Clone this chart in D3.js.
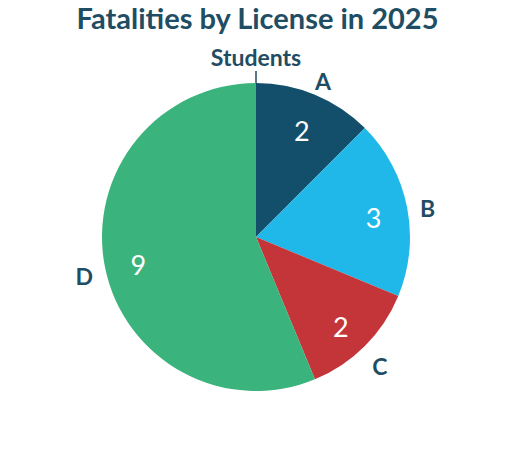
<!DOCTYPE html>
<html><head><meta charset="utf-8">
<script src="https://cdn.jsdelivr.net/npm/d3@7"></script>
<style>body{margin:0;background:#fff;}svg{display:block;}</style>
</head><body>
<svg id="chart" width="516" height="456"></svg>
<script>
const categories = ["Students", "A", "B", "C", "D"];
const values = [0, 2, 3, 2, 9];
const colors = ["#3bb37c", "#134f6b", "#1fb8e8", "#c4353a", "#3bb37c"];
const title = "Fatalities by License in 2025";

const svg = d3.select("#chart");
const cx = 256, cy = 237, r = 154;
const textColor = "#1f4d63";
const font = "Lato";

svg.append("text").attr("x", 257.5).attr("y", 28.7).attr("text-anchor", "middle")
  .attr("font-family", font).attr("font-weight", 700).attr("font-size", 29)
  .attr("fill", textColor).text(title);

const data = categories.map((c, i) => ({cat: c, value: values[i], color: colors[i]}));
const pie = d3.pie().sort(null).value(d => d.value);
const arcs = pie(data);
const arc = d3.arc().innerRadius(0).outerRadius(r);
const labelArc = d3.arc().innerRadius(120).outerRadius(120);
const outArc = d3.arc().innerRadius(175).outerRadius(175);

const g = svg.append("g").attr("transform", `translate(${cx},${cy})`);
g.selectAll("path.slice").data(arcs.filter(a => a.data.value > 0)).join("path")
  .attr("class", "slice").attr("d", arc).attr("fill", d => d.data.color);

g.selectAll("text.val").data(arcs.filter(a => a.data.value > 0)).join("text")
  .attr("class", "val")
  .attr("transform", d => { const c = labelArc.centroid(d); return `translate(${c[0]},${c[1] + 5})`; })
  .attr("text-anchor", "middle").attr("dy", "0.36em")
  .attr("font-family", font).attr("font-weight", 400).attr("font-size", 27).attr("fill", "#fff")
  .text(d => d.data.value);

g.selectAll("text.cat").data(arcs.filter(a => a.data.value > 0)).join("text")
  .attr("class", "cat")
  .attr("transform", d => { const c = outArc.centroid(d); return `translate(${c[0]},${c[1] + 6})`; })
  .attr("text-anchor", "middle").attr("dy", "0.36em")
  .attr("font-family", font).attr("font-weight", 700).attr("font-size", 23)
  .attr("fill", textColor).text(d => d.data.cat);

// zero-value slice label with connector
arcs.filter(a => a.data.value === 0).forEach(a => {
  const ang = a.startAngle;
  const x = Math.sin(ang), y = -Math.cos(ang);
  g.append("line").attr("x1", x * r).attr("y1", y * r).attr("x2", x * 166).attr("y2", y * 166)
    .attr("stroke", textColor).attr("stroke-width", 1.5);
  g.append("text").attr("x", x * 179).attr("y", y * 179).attr("dy", "0.36em")
    .attr("text-anchor", "middle")
    .attr("font-family", font).attr("font-weight", 700).attr("font-size", 23)
    .attr("fill", textColor).text(a.data.cat);
});
</script>
</body></html>
